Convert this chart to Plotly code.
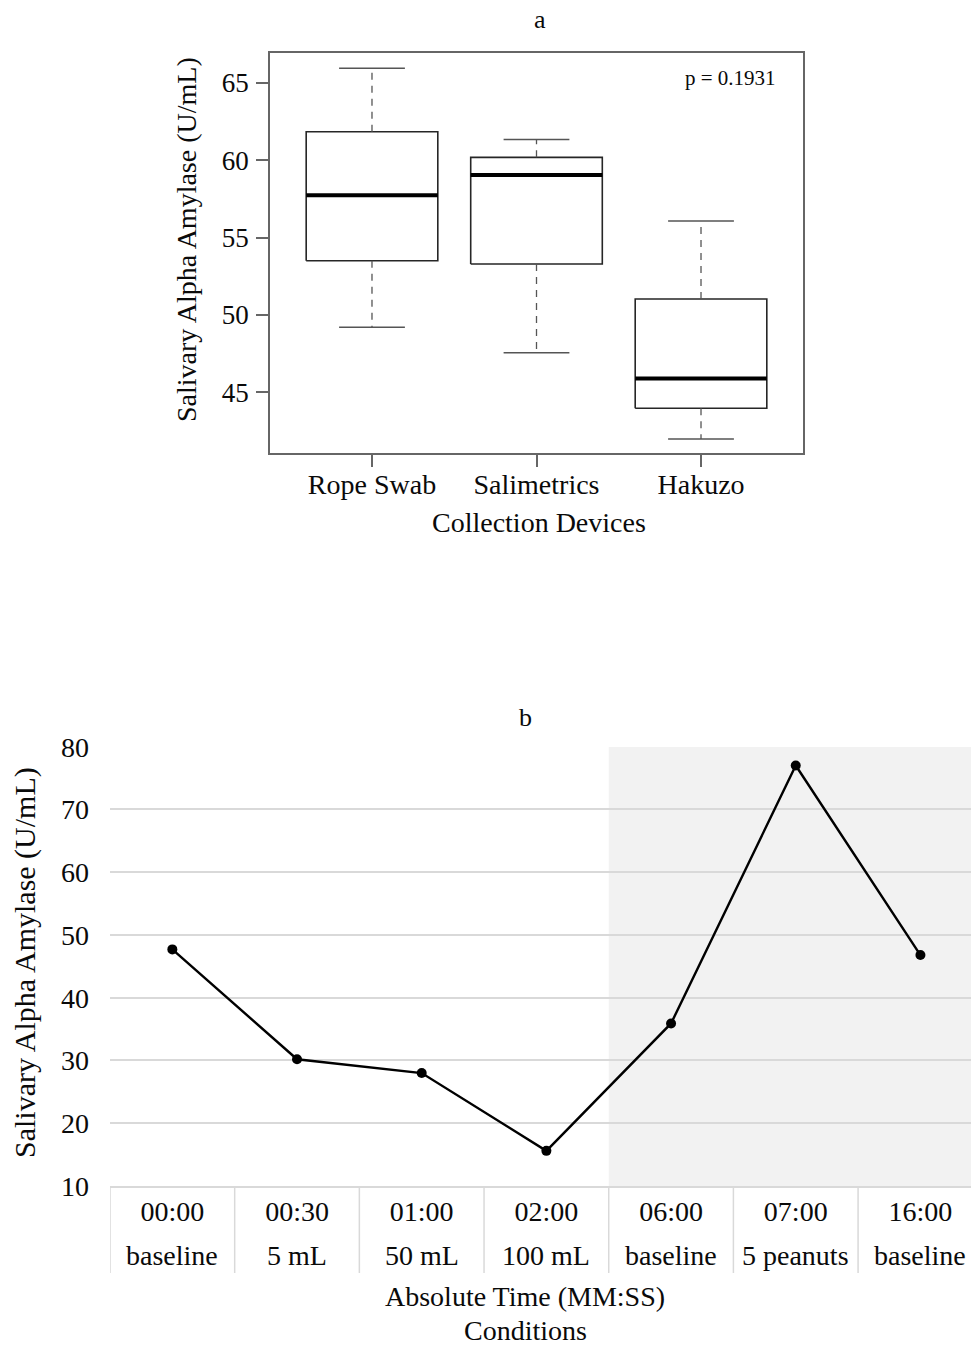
import plotly.graph_objects as go

# ---------------- data ----------------
# (a) salivary alpha amylase by collection device (box summaries, U/mL)
devices = ["Rope Swab", "Salimetrics", "Hakuzo"]
lower_whisker = [49.20, 47.56, 41.98]
q1 = [53.50, 53.29, 43.97]
median = [57.73, 59.04, 45.90]
q3 = [61.83, 60.18, 51.03]
upper_whisker = [65.93, 61.34, 56.07]
p_value = 0.1931

# (b) salivary alpha amylase over time and condition (U/mL)
times = ["00:00", "00:30", "01:00", "02:00", "06:00", "07:00", "16:00"]
conditions = ["baseline", "5 mL", "50 mL", "100 mL", "baseline", "5 peanuts", "baseline"]
amylase = [47.7, 30.2, 28.0, 15.6, 35.9, 77.0, 46.8]
session2_start = 4  # index of the first point of the second session (shaded)

# ---------------- layout helpers ----------------
W, H = 971, 1345
FONT = "Liberation Serif, Times New Roman, serif"
TXT = "#0a0a0a"


def px(x):
    return x / W


def py(y):
    return 1 - y / H


fig = go.Figure()

# ---------------- panel a: box plots ----------------
box_half = 0.4
cap_half = 0.2
box_col = "#262626"
for i, name in enumerate(devices):
    c = i + 1
    # box outline
    fig.add_trace(go.Scatter(
        x=[c - box_half, c + box_half, c + box_half, c - box_half, c - box_half],
        y=[q1[i], q1[i], q3[i], q3[i], q1[i]],
        mode="lines", line=dict(color=box_col, width=1.6),
        xaxis="x", yaxis="y", showlegend=False, hoverinfo="skip"))
    # dashed whiskers
    for a, b in ((q3[i], upper_whisker[i]), (q1[i], lower_whisker[i])):
        fig.add_trace(go.Scatter(
            x=[c, c], y=[a, b], mode="lines",
            line=dict(color="#555555", width=1.3, dash="7px,6px"),
            xaxis="x", yaxis="y", showlegend=False, hoverinfo="skip"))
    # whisker caps
    for v in (upper_whisker[i], lower_whisker[i]):
        fig.add_trace(go.Scatter(
            x=[c - cap_half, c + cap_half], y=[v, v], mode="lines",
            line=dict(color="#555555", width=1.5),
            xaxis="x", yaxis="y", showlegend=False, hoverinfo="skip"))
    # median
    fig.add_trace(go.Scatter(
        x=[c - box_half, c + box_half], y=[median[i], median[i]], mode="lines",
        line=dict(color="#000000", width=4),
        xaxis="x", yaxis="y", showlegend=False, hoverinfo="skip"))

# ---------------- panel b: time course ----------------
fig.add_trace(go.Scatter(
    x=list(range(len(times))), y=amylase, mode="lines+markers",
    line=dict(color="#000000", width=2.4),
    marker=dict(color="#000000", size=10),
    xaxis="x2", yaxis="y2", showlegend=False))

n = len(times)
x2_right = (W - 172.85) / 124.6

# shaded second session
fig.add_shape(type="rect", xref="x2", yref="y2",
              x0=session2_start - 0.5, x1=x2_right + 0.5, y0=10, y1=80,
              fillcolor="#f2f2f2", line=dict(width=0), layer="below")

# category separators below the axis
for k in range(n):
    fig.add_shape(type="line", xref="x2", yref="y2 domain",
                  x0=k - 0.5, x1=k - 0.5, y0=0, y1=-0.198,
                  line=dict(color="#d9d9d9", width=1.5))

# second row of category labels (conditions)
for k, cond in enumerate(conditions):
    fig.add_annotation(x=k, xref="x2", y=py(1255), yref="paper",
                       text=cond, showarrow=False, xanchor="center", yanchor="middle",
                       font=dict(family=FONT, size=28, color=TXT))

# ---------------- text ----------------
def label(text, x, y, size, angle=0, xanchor="center"):
    fig.add_annotation(x=px(x), y=py(y), xref="paper", yref="paper", text=text,
                       showarrow=False, textangle=angle, xanchor=xanchor, yanchor="middle",
                       font=dict(family=FONT, size=size, color=TXT))


label("a", 540, 19, 26)
label("Salivary Alpha Amylase (U/mL)", 186, 240, 28, angle=-90)
label("Collection Devices", 539, 522, 28)
label(f"p = {p_value}", 778, 78, 21, xanchor="right")

label("b", 525, 717, 26)
label("Salivary Alpha Amylase (U/mL)", 25, 963, 30, angle=-90)
label("Absolute Time (MM:SS)", 525, 1296, 28)
label("Conditions", 525, 1330, 28)

# ---------------- axes ----------------
fig.update_layout(
    width=W, height=H,
    margin=dict(l=0, r=0, t=0, b=0, pad=0, autoexpand=False),
    paper_bgcolor="white", plot_bgcolor="rgba(0,0,0,0)",
    font=dict(family=FONT, color=TXT),
    xaxis=dict(domain=[px(270), px(803)], range=[0.38, 3.62], automargin=False,
               tickvals=[1, 2, 3], ticktext=devices,
               ticks="outside", ticklen=12, tickwidth=1.5, tickcolor="#666666",
               showline=True, linecolor="#666666", linewidth=1.5, mirror=True,
               showgrid=False, zeroline=False, ticklabelstandoff=-6,
               tickfont=dict(family=FONT, size=28, color=TXT)),
    yaxis=dict(domain=[py(453), py(53)], range=[41.08, 66.92], automargin=False,
               tickvals=[45, 50, 55, 60, 65],
               ticks="outside", ticklen=12, tickwidth=1.5, tickcolor="#666666",
               showline=True, linecolor="#666666", linewidth=1.5, mirror=True,
               showgrid=False, zeroline=False, ticklabelstandoff=2,
               tickfont=dict(family=FONT, size=27, color=TXT)),
    xaxis2=dict(domain=[px(110), 1.0], range=[-0.5, x2_right], automargin=False,
                tickvals=list(range(n)), ticktext=times, anchor="y2",
                ticks="", showline=True, linecolor="#d9d9d9", linewidth=1.5,
                showgrid=False, zeroline=False, ticklabelstandoff=0,
                tickfont=dict(family=FONT, size=28, color=TXT)),
    yaxis2=dict(domain=[py(1186), py(746.7)], range=[10, 80], anchor="x2", automargin=False,
                tickvals=[10, 20, 30, 40, 50, 60, 70, 80],
                showgrid=True, gridcolor="#d9d9d9", gridwidth=1.5,
                showline=False, ticks="", zeroline=False, ticklabelstandoff=20,
                tickfont=dict(family=FONT, size=28, color=TXT)),
)

fig.write_html("out.html")
